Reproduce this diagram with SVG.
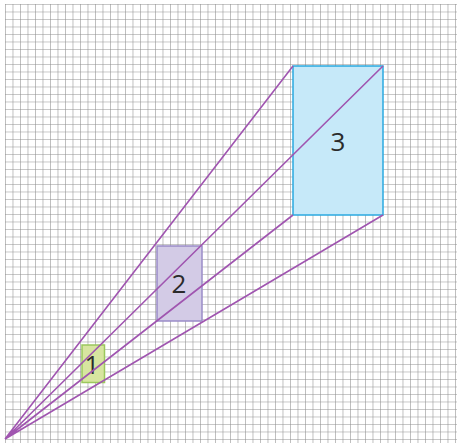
<svg xmlns="http://www.w3.org/2000/svg" width="457" height="443" viewBox="0 0 457 443">
<defs>
<pattern id="grid" width="7.5" height="7.5" patternUnits="userSpaceOnUse" x="5" y="4">
<path d="M0 0H7.5M0 0V7.5" fill="none" stroke="#8e8e8e" stroke-width="1.1"/>
</pattern>
</defs>
<style>
.lbl{font-family:"Open Sans","Noto Sans",sans-serif;font-size:26px;fill:#2b2b2b;text-anchor:middle}
.ray{stroke:#a055b0;stroke-width:1.6;fill:none}
</style>
<rect x="0" y="0" width="457" height="443" fill="#ffffff"/>
<rect x="5" y="4" width="452" height="439" fill="url(#grid)"/>
<g id="node1">
<rect x="82" y="345" width="22.5" height="37.5" fill="#d7e5a0" stroke="#9bc85c" stroke-width="1.5"/>
<text class="lbl" x="92" y="374">1</text>
</g>
<g id="node2">
<rect x="157" y="246" width="45" height="75" fill="#d3cbe6" stroke="#9a8cc8" stroke-width="1.5"/>
<text class="lbl" x="179" y="293">2</text>
</g>
<g id="node3">
<rect x="293" y="66" width="90" height="149" fill="#c6e9f9" stroke="#2aa9e0" stroke-width="1.5"/>
<text class="lbl" x="338" y="151">3</text>
</g>
<g id="connectors">
<path class="ray" d="M5 439L293 66M5 439L383 66M5 439L293 215M5 439L383 215"/>
</g>
</svg>
